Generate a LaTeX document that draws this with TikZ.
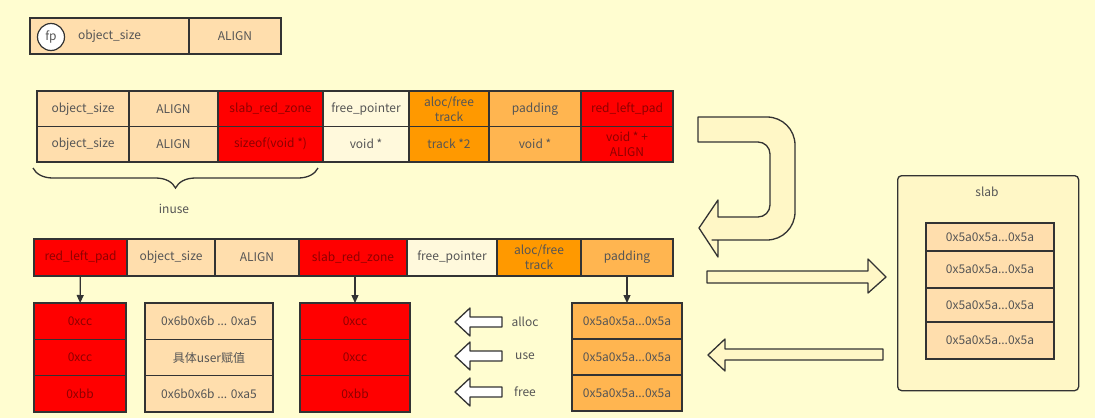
\documentclass[tikz,border=0pt]{standalone}
\usepackage{fontspec}
\setmainfont{Noto Sans CJK SC}
\usepackage{tikz}
\usetikzlibrary{
  arrows.meta,
  positioning,
  decorations.pathreplacing
}
\definecolor{paper}{HTML}{FFFDD0}
\definecolor{peach}{HTML}{FFDEAD}
\definecolor{redzone}{HTML}{FF0000}
\definecolor{cream}{HTML}{FFF9DC}
\definecolor{track}{HTML}{FF9900}
\definecolor{padcol}{HTML}{FFB550}
\definecolor{shapefill}{HTML}{FFF7C6}
\definecolor{ink}{HTML}{555555}
\definecolor{redink}{HTML}{8E0000}
\definecolor{edge}{HTML}{333333}

\begin{document}
\begin{tikzpicture}[
  x=1pt,y=-1pt,
  every node/.style={font=\fontsize{12}{15}\selectfont,text=ink},
  cell/.style={rectangle,draw=edge,line width=1.3pt,outer sep=0pt,inner sep=1pt,align=center},
  rcell/.style={cell,fill=redzone,text=redink},
  toprow/.style={minimum height=35.5pt},
  lowrow/.style={minimum height=37pt},
  stackbox/.style={cell,minimum height=36.3pt},
  arrow/.style={-{Triangle[length=8pt,width=7pt]},line width=1.3pt,draw=edge},
  blockarrow/.style={draw=edge,line width=1.3pt,fill=shapefill,line join=round},
  hollow/.style={draw=edge,line width=1.3pt,fill=white,line join=round},
]
\fill[paper] (0,0) rectangle (1095,418);
\useasboundingbox (0,0) rectangle (1095,418);

\node[cell,fill=peach,minimum width=159pt,minimum height=36pt,anchor=north west] (lg1) at (30,18) {object\_size};
\node[cell,fill=peach,minimum width=92pt,minimum height=36pt,right=0pt of lg1] (lg2) {ALIGN};
\node[circle,draw=edge,line width=1.2pt,fill=white,minimum size=27pt,inner sep=0pt] (fp) at (51,37) {fp};

\node[cell,toprow,fill=peach,minimum width=92pt,anchor=north west] (osa) at (37,91) {object\_size};
\node[cell,toprow,fill=peach,minimum width=89pt,right=0pt of osa] (ala) {ALIGN};
\node[rcell,toprow,minimum width=105pt,right=0pt of ala] (rza) {slab\_red\_zone};
\node[cell,toprow,fill=cream,minimum width=86pt,right=0pt of rza] (fpa) {free\_pointer};
\node[cell,toprow,fill=track,minimum width=80pt,right=0pt of fpa] (tra) {aloc/free\\track};
\node[cell,toprow,fill=padcol,minimum width=92pt,right=0pt of tra] (pda) {padding};
\node[rcell,toprow,minimum width=92pt,right=0pt of pda] (lpa) {red\_left\_pad};

\node[cell,toprow,fill=peach,minimum width=92pt,below=0pt of osa] (osv) {object\_size};
\node[cell,toprow,fill=peach,minimum width=89pt,below=0pt of ala] (alv) {ALIGN};
\node[rcell,toprow,minimum width=105pt,below=0pt of rza] (rzv) {sizeof(void *)};
\node[cell,toprow,fill=cream,minimum width=86pt,below=0pt of fpa] (fpv) {void *};
\node[cell,toprow,fill=track,minimum width=80pt,below=0pt of tra] (trv) {track *2};
\node[cell,toprow,fill=padcol,minimum width=92pt,below=0pt of pda] (pdv) {void *};
\node[rcell,toprow,minimum width=92pt,below=0pt of lpa] (lpv) {void * +\\ALIGN};

\coordinate (inl) at (33,168);
\coordinate (inr) at (318,168);
\draw[edge,line width=1.3pt,decorate,decoration={brace,mirror,amplitude=20pt,aspect=0.5}] (inl) -- (inr);
\node (inuse) at (174,209) {inuse};

\draw[blockarrow] (698,117) -- (760,117) [rounded corners=28pt] -- (795,117) -- (795,240) -- (740,240) [sharp corners] -- (718,240) -- (718,257) -- (699,228) -- (718,200) -- (718,217) -- (745,217) [rounded corners=12pt] -- (770,217) -- (770,142) -- (745,142) [sharp corners] -- (698,142) -- cycle;

\node[rcell,lowrow,minimum width=93pt,anchor=north west] (rlp) at (34,239) {red\_left\_pad};
\node[cell,lowrow,fill=peach,minimum width=88pt,right=0pt of rlp] (osb) {object\_size};
\node[cell,lowrow,fill=peach,minimum width=84pt,right=0pt of osb] (alb) {ALIGN};
\node[rcell,lowrow,minimum width=108pt,right=0pt of alb] (srz) {slab\_red\_zone};
\node[cell,lowrow,fill=cream,minimum width=90pt,right=0pt of srz] (fpb) {free\_pointer};
\node[cell,lowrow,fill=track,minimum width=84pt,right=0pt of fpb] (trb) {aloc/free\\track};
\node[cell,lowrow,fill=padcol,minimum width=92pt,right=0pt of trb] (pdb) {padding};

\node[rcell,stackbox,minimum width=92pt,anchor=north west] (lp1) at (34,303) {0xcc};
\node[rcell,stackbox,minimum width=92pt,below=0pt of lp1] (lp2) {0xcc};
\node[rcell,stackbox,minimum width=92pt,below=0pt of lp2] (lp3) {0xbb};

\node[cell,stackbox,fill=peach,minimum width=128pt,anchor=north west] (us1) at (145,303) {0x6b0x6b ... 0xa5};
\node[cell,stackbox,fill=peach,minimum width=128pt,below=0pt of us1] (us2) {具体user赋值};
\node[cell,stackbox,fill=peach,minimum width=128pt,below=0pt of us2] (us3) {0x6b0x6b ... 0xa5};

\node[rcell,stackbox,minimum width=110pt,anchor=north west] (rz1) at (300,303) {0xcc};
\node[rcell,stackbox,minimum width=110pt,below=0pt of rz1] (rz2) {0xcc};
\node[rcell,stackbox,minimum width=110pt,below=0pt of rz2] (rz3) {0xbb};

\node[cell,stackbox,fill=padcol,minimum width=110pt,minimum height=36pt,anchor=north west] (pd1) at (572,303) {0x5a0x5a...0x5a};
\node[cell,stackbox,fill=padcol,minimum width=110pt,minimum height=36pt,below=0pt of pd1] (pd2) {0x5a0x5a...0x5a};
\node[cell,stackbox,fill=padcol,minimum width=110pt,minimum height=36pt,below=0pt of pd2] (pd3) {0x5a0x5a...0x5a};

\draw[arrow] (rlp) -- (lp1);
\draw[arrow] (rz1.north |- srz.south) -- (rz1.north);
\draw[arrow] (pd1.north |- pdb.south) -- (pd1.north);

\foreach \y/\t in {322/alloc,356/use,392/free} {
  \node (\t) at (525,\y) {\t};
  \draw[hollow] (502,\y-5) -- (470,\y-5) -- (470,\y-14) -- (455,\y) -- (470,\y+14) -- (470,\y+5) -- (502,\y+5) -- cycle;
}

\node[draw=edge,line width=1.3pt,rounded corners=4pt,fill=shapefill,minimum width=181pt,minimum height=215pt,anchor=north west] (slab) at (897,175) {};
\node (slabname) at (987,192) {slab};
\node[cell,fill=peach,minimum width=128pt,minimum height=28pt,anchor=north west] (sl1) at (926,223) {0x5a0x5a...0x5a};
\node[cell,fill=peach,minimum width=128pt,minimum height=37pt,below=0pt of sl1] (sl2) {0x5a0x5a...0x5a};
\node[cell,fill=peach,minimum width=128pt,minimum height=34pt,below=0pt of sl2] (sl3) {0x5a0x5a...0x5a};
\node[cell,fill=peach,minimum width=128pt,minimum height=37pt,below=0pt of sl3] (sl4) {0x5a0x5a...0x5a};

\draw[blockarrow] (707,271) -- (868,271) -- (868,259) -- (886,277) -- (868,293) -- (868,283) -- (707,283) -- cycle;
\draw[blockarrow] (883,349) -- (725,349) -- (725,339) -- (708,355) -- (725,371) -- (725,360) -- (883,360) -- cycle;
\end{tikzpicture}
\end{document}
